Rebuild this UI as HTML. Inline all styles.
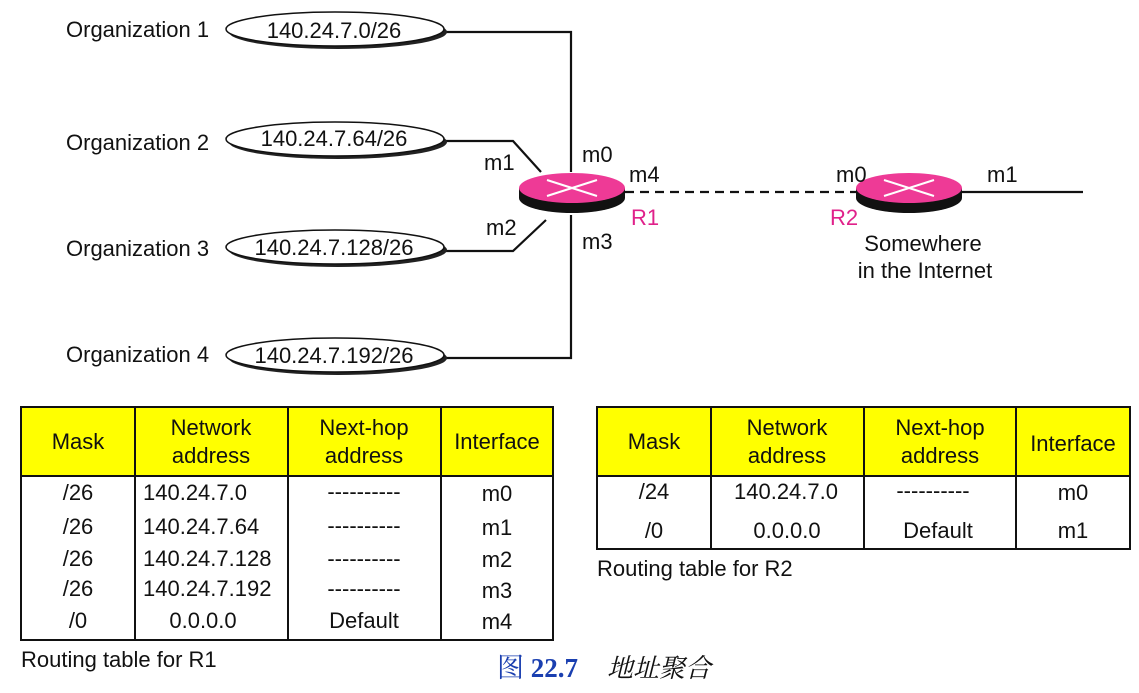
<!DOCTYPE html>
<html><head><meta charset="utf-8"><style>
body{margin:0;background:#fff;}
svg text{font-family:"Liberation Sans","Noto Sans CJK SC",sans-serif;fill:#111;}
</style></head><body>
<svg width="1139" height="688" viewBox="0 0 1139 688" xmlns="http://www.w3.org/2000/svg">
<defs>
<g id="ell"><ellipse cx="3" cy="3" rx="109" ry="17" fill="#222"/><ellipse cx="0" cy="0" rx="109" ry="17" fill="#fff" stroke="#111" stroke-width="1.5"/></g>
<g id="rt"><ellipse cx="0" cy="10" rx="53" ry="15" fill="#111"/><rect x="-53" y="0" width="106" height="10" fill="#111"/><ellipse cx="0" cy="0" rx="53" ry="15" fill="#ee3a96"/><path d="M-25,-8 L25,8 M-25,8 L25,-8" stroke="#fff" stroke-width="2"/></g>
</defs>
<g font-size="22">
<text x="66" y="37">Organization 1</text>
<text x="66" y="150">Organization 2</text>
<text x="66" y="256">Organization 3</text>
<text x="66" y="362">Organization 4</text>
</g>
<g fill="none" stroke="#111" stroke-width="2.2">
<path d="M445,32 H571 V172"/>
<path d="M445,358 H571 V215"/>
<path d="M445,141 H513 L541,172"/>
<path d="M445,251 H513 L546,220"/>
<path d="M960,192 H1083"/>
<path d="M625,192 H858" stroke-dasharray="9,6"/>
</g>
<use href="#ell" x="335" y="29"/>
<use href="#ell" x="335" y="139"/>
<use href="#ell" x="335" y="247"/>
<use href="#ell" x="335" y="355"/>
<g font-size="22" text-anchor="middle">
<text x="334" y="38">140.24.7.0/26</text>
<text x="334" y="146">140.24.7.64/26</text>
<text x="334" y="255">140.24.7.128/26</text>
<text x="334" y="363">140.24.7.192/26</text>
</g>
<use href="#rt" x="572" y="188"/>
<use href="#rt" x="909" y="188"/>
<g font-size="22">
<text x="582" y="162">m0</text>
<text x="484" y="170">m1</text>
<text x="486" y="235">m2</text>
<text x="582" y="249">m3</text>
<text x="629" y="182">m4</text>
<text x="836" y="182">m0</text>
<text x="987" y="182">m1</text>
<text x="631" y="225" style="fill:#e0218a">R1</text>
<text x="830" y="225" style="fill:#e0218a">R2</text>
<text x="923" y="251" text-anchor="middle">Somewhere</text>
<text x="925" y="278" text-anchor="middle">in the Internet</text>
</g>
<rect x="21" y="407" width="532" height="69" fill="#ffff00"/>
<g stroke="#111" stroke-width="2" fill="none">
<rect x="21" y="407" width="532" height="233"/>
<path d="M21,476 H553 M135,407 V640 M288,407 V640 M441,407 V640"/>
</g>
<g font-size="22" text-anchor="middle">
<text x="78" y="449">Mask</text>
<text x="211" y="435">Network</text><text x="211" y="463">address</text>
<text x="364" y="435">Next-hop</text><text x="364" y="463">address</text>
<text x="497" y="449">Interface</text>
<text x="78" y="500">/26</text><text x="78" y="534">/26</text><text x="78" y="566">/26</text><text x="78" y="596">/26</text><text x="78" y="628">/0</text>
<text x="364" y="499">----------</text><text x="364" y="533">----------</text><text x="364" y="566">----------</text><text x="364" y="596">----------</text><text x="364" y="628">Default</text>
<text x="497" y="501">m0</text><text x="497" y="535">m1</text><text x="497" y="567">m2</text><text x="497" y="598">m3</text><text x="497" y="629">m4</text>
<text x="203" y="628">0.0.0.0</text>
</g>
<g font-size="22">
<text x="143" y="500">140.24.7.0</text><text x="143" y="534">140.24.7.64</text><text x="143" y="566">140.24.7.128</text><text x="143" y="596">140.24.7.192</text>
<text x="21" y="667">Routing table for R1</text>
<text x="597" y="576">Routing table for R2</text>
</g>
<rect x="597" y="407" width="533" height="69" fill="#ffff00"/>
<g stroke="#111" stroke-width="2" fill="none">
<rect x="597" y="407" width="533" height="142"/>
<path d="M597,476 H1130 M711,407 V549 M864,407 V549 M1016,407 V549"/>
</g>
<g font-size="22" text-anchor="middle">
<text x="654" y="449">Mask</text>
<text x="787" y="435">Network</text><text x="787" y="463">address</text>
<text x="940" y="435">Next-hop</text><text x="940" y="463">address</text>
<text x="1073" y="451">Interface</text>
<text x="654" y="499">/24</text><text x="654" y="538">/0</text>
<text x="786" y="499">140.24.7.0</text><text x="787" y="538">0.0.0.0</text>
<text x="933" y="498">----------</text><text x="938" y="538">Default</text>
<text x="1073" y="500">m0</text><text x="1073" y="538">m1</text>
</g>
<text x="497" y="677" font-size="27" style="fill:#1a3fb0;font-family:'Liberation Serif','Noto Serif CJK SC',serif;">图 <tspan font-weight="bold">22.7</tspan></text>
<text x="607" y="677" font-size="26" font-style="italic" style="font-family:'Liberation Serif','Noto Serif CJK SC',serif;">地址聚合</text>
</svg>
</body></html>
